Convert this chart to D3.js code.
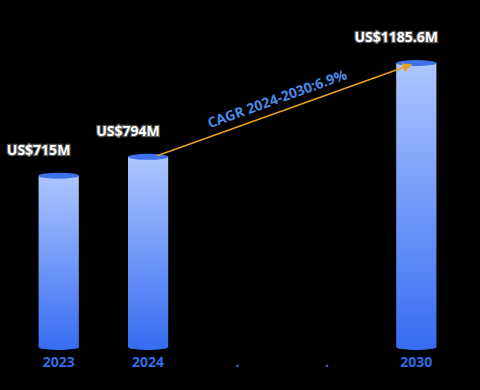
<!DOCTYPE html>
<html lang="en">
<head>
<meta charset="utf-8">
<title>Market size</title>
<script src="https://cdnjs.cloudflare.com/ajax/libs/d3/7.8.5/d3.min.js"></script>
<style>
  body { margin: 0; background: #000; }
  .label { font-family: "Open Sans", "DejaVu Sans", sans-serif; font-weight: bold; font-size: 14px;
           fill: #fff; stroke: #555; stroke-width: 2.5px; paint-order: stroke; }
  .tick-label { font-family: "Open Sans", sans-serif; font-weight: bold; font-size: 14px; fill: #2f6ee8; }
</style>
</head>
<body>
<script>
// data
var categories = ["2023", "2024", ".", "..", "2030"];
var tickLabels = ["2023", "2024", ".", ".", "2030"];
var values = [715, 794, null, null, 1185.6];
var valueLabels = ["US$715M", "US$794M", "", "", "US$1185.6M"];
var cagrText = "CAGR 2024-2030:6.9%";

var width = 480, height = 390;
var svg = d3.select("body").append("svg")
    .attr("width", width).attr("height", height);

var x = d3.scaleBand().domain(categories).range([14, 461]).paddingInner(0.55).paddingOuter(0.275);
var y = d3.scaleLinear().domain([0, 1185.6]).range([347, 63]);

var defs = svg.append("defs");
var grad = defs.append("linearGradient").attr("id", "barGrad")
    .attr("x1", 0).attr("y1", 0).attr("x2", 0).attr("y2", 1);
grad.append("stop").attr("offset", "0%").attr("stop-color", "#adc6ff");
grad.append("stop").attr("offset", "100%").attr("stop-color", "#366cf2");

defs.append("marker").attr("id", "arrow")
    .attr("viewBox", "0 0 10 10").attr("refX", 8).attr("refY", 5)
    .attr("markerWidth", 6).attr("markerHeight", 6).attr("orient", "auto")
  .append("path").attr("d", "M0,0 L10,5 L0,10 z").attr("fill", "#e8a020");

var data = categories.map(function(c, i) { return {cat: c, v: values[i], label: valueLabels[i]}; })
    .filter(function(d) { return d.v != null; });

var bw = x.bandwidth(), ry = 3;

var g = svg.selectAll(".bar").data(data).enter().append("g");

// body of the cylinder
g.append("path")
    .attr("fill", "url(#barGrad)")
    .attr("d", function(d) {
      var x0 = x(d.cat), x1 = x0 + bw, top = y(d.v), bot = y(0);
      return "M" + x0 + "," + top + " L" + x0 + "," + bot +
        " A" + (bw / 2) + "," + ry + " 0 0 0 " + x1 + "," + bot +
        " L" + x1 + "," + top + " Z";
    });

// top cap
g.append("ellipse")
    .attr("cx", function(d) { return x(d.cat) + bw / 2; })
    .attr("cy", function(d) { return y(d.v); })
    .attr("rx", bw / 2).attr("ry", ry)
    .attr("fill", "#3d72ea");

g.append("text").attr("class", "label")
    .attr("x", function(d) { return x(d.cat); })
    .attr("y", function(d) { return y(d.v) - 21; })
    .attr("text-anchor", "middle")
    .text(function(d) { return d.label; });

// x-axis labels
svg.selectAll(".tick-label").data(categories).enter().append("text")
    .attr("class", "tick-label")
    .attr("x", function(d) { return x(d) + bw / 2; })
    .attr("y", 367)
    .attr("text-anchor", "middle")
    .text(function(d, i) { return tickLabels[i]; });

// CAGR arrow
var a = {x: x("2024") + bw / 2 + 9, y: y(794) - 1};
var b = {x: x("2030") + bw / 2 - 6, y: y(1185.6) + 2};
svg.append("line")
    .attr("x1", a.x).attr("y1", a.y).attr("x2", b.x).attr("y2", b.y)
    .attr("stroke", "#e8a020").attr("stroke-width", 1.6)
    .attr("marker-end", "url(#arrow)");

var ang = Math.atan2(b.y - a.y, b.x - a.x) * 180 / Math.PI;
var mx = (a.x + b.x) / 2 - 5, my = (a.y + b.y) / 2 - 7;
svg.append("text")
    .attr("transform", "translate(" + mx + "," + my + ") rotate(" + ang + ")")
    .attr("text-anchor", "middle")
    .style("font-family", "'Open Sans', sans-serif")
    .style("font-weight", "bold").style("font-size", "14px")
    .attr("fill", "#4a8ae6")
    .text(cagrText);
</script>
</body>
</html>
